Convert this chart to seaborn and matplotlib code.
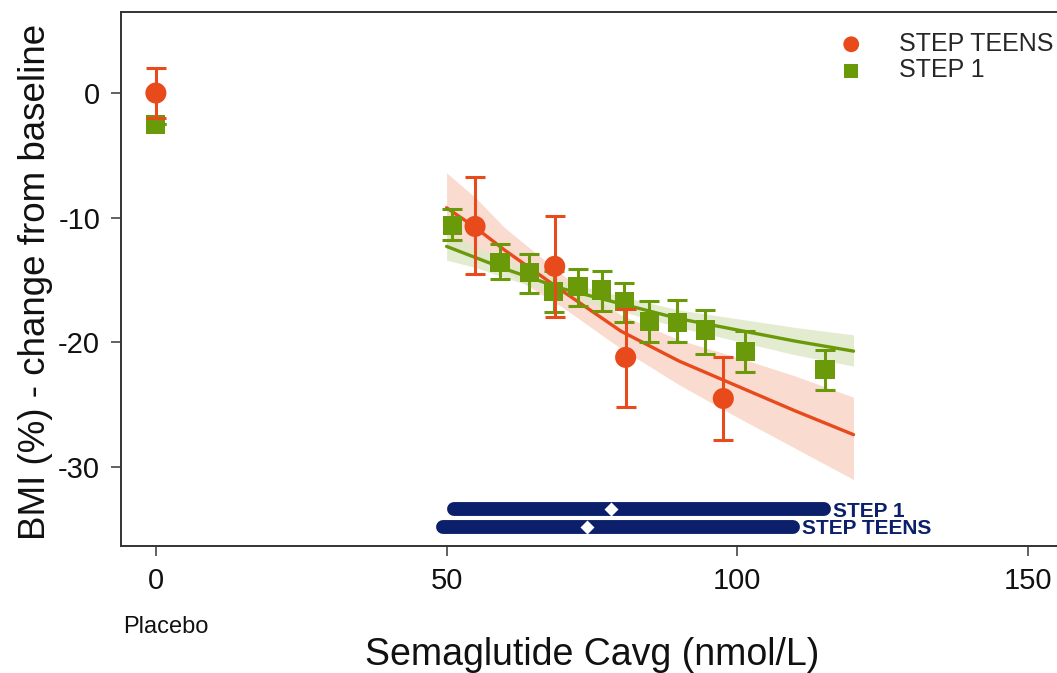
import numpy as np
import pandas as pd
import matplotlib
matplotlib.use("Agg")
import matplotlib.pyplot as plt
import matplotlib.transforms as mtransforms
import seaborn as sns

# ---- data ----
teens_x = [0, 54.9, 68.6, 80.8, 97.6]
teens_y = [0.0, -10.7, -13.9, -21.2, -24.5]
teens_lo = [-2.0, -14.5, -18.0, -25.2, -27.8]
teens_hi = [2.0, -6.7, -9.9, -17.3, -21.2]

step1_x = [0, 51.0, 59.2, 64.2, 68.4, 72.6, 76.7, 80.6, 84.9, 89.7, 94.5, 101.4, 115.1]
step1_y = [-2.5, -10.6, -13.6, -14.4, -15.9, -15.5, -15.8, -16.7, -18.3, -18.4, -19.0, -20.7, -22.2]
step1_lo = [-2.5, -11.8, -14.9, -16.0, -17.6, -17.1, -17.5, -18.4, -20.0, -20.0, -20.9, -22.4, -23.8]
step1_hi = [-2.5, -9.3, -12.1, -12.9, -14.3, -14.1, -14.3, -15.2, -16.7, -16.6, -17.4, -19.1, -20.6]

curve_x = [50, 55, 60, 70, 80, 90, 100, 110, 120]
teens_curve = [-9.2, -10.8, -12.6, -15.9, -19.1, -21.5, -23.5, -25.5, -27.4]
teens_band_lo = [-12.4, -13.0, -14.3, -17.2, -20.5, -23.4, -26.0, -28.5, -31.0]
teens_band_hi = [-6.4, -8.4, -10.8, -14.6, -17.8, -19.8, -21.2, -22.7, -24.4]
step1_curve = [-12.3, -13.2, -14.1, -15.7, -16.9, -18.1, -19.0, -19.9, -20.7]
step1_band_lo = [-13.4, -14.0, -14.8, -16.3, -17.5, -18.8, -19.9, -21.0, -21.9]
step1_band_hi = [-11.2, -12.3, -13.4, -15.1, -16.3, -17.4, -18.1, -18.8, -19.4]

exp_names = ["STEP 1", "STEP TEENS"]
exp_lo = [51.3, 49.4]
exp_hi = [114.9, 109.6]
exp_med = [78.2, 74.1]
exp_y = [-33.4, -34.8]

xticks = [0, 50, 100, 150]
yticks = [0, -10, -20, -30]

RED = "#E84A1B"
GREEN = "#6A9A0A"
NAVY = "#0B1F6B"

sns.set_style("white")
plt.rcParams["font.family"] = ["Liberation Sans", "DejaVu Sans"]
plt.rcParams["axes.unicode_minus"] = False

fig = plt.figure(figsize=(10.57, 6.73), dpi=100)
ax = fig.add_axes([121 / 1057, 1 - 546 / 673, 1 - 121 / 1057, (546 - 12) / 673])

# confidence bands
ax.fill_between(curve_x, teens_band_lo, teens_band_hi, color="#F9D5C8", alpha=0.85, lw=0, zorder=1)
ax.fill_between(curve_x, step1_band_lo, step1_band_hi, color="#DDE8C6", alpha=0.8, lw=0, zorder=1)

# fitted curves
cdf = pd.DataFrame({
    "x": curve_x * 2,
    "y": step1_curve + teens_curve,
    "study": ["STEP 1"] * len(curve_x) + ["STEP TEENS"] * len(curve_x),
})
sns.lineplot(data=cdf, x="x", y="y", hue="study", palette={"STEP 1": GREEN, "STEP TEENS": RED},
             lw=2.4, ax=ax, legend=False, zorder=3)

# error bars
s1_err = [np.array(step1_y) - np.array(step1_lo), np.array(step1_hi) - np.array(step1_y)]
t_err = [np.array(teens_y) - np.array(teens_lo), np.array(teens_hi) - np.array(teens_y)]
ax.errorbar(step1_x, step1_y, yerr=s1_err, fmt="none", ecolor=GREEN, elinewidth=2.2,
            capsize=7, capthick=2.2, zorder=4)
ax.errorbar(teens_x, teens_y, yerr=t_err, fmt="none", ecolor=RED, elinewidth=2.2,
            capsize=7, capthick=2.2, zorder=6)

# points
sns.scatterplot(x=step1_x, y=step1_y, marker="s", s=190, color=GREEN, edgecolor="none",
                ax=ax, zorder=5, label="STEP 1")
sns.scatterplot(x=teens_x, y=teens_y, marker="o", s=230, color=RED, edgecolor="none",
                ax=ax, zorder=7, label="STEP TEENS")

# exposure bars
for name, lo, hi, med, yy in zip(exp_names, exp_lo, exp_hi, exp_med, exp_y):
    ax.plot([lo, hi], [yy, yy], color=NAVY, lw=10, solid_capstyle="round", zorder=5)
    ax.plot([med], [yy], marker="D", color="white", ms=7, mec="none", zorder=6)
    ax.text(hi + 1.6, yy - 0.15, name, color=NAVY, fontsize=15, fontweight="bold",
            va="center", ha="left", zorder=6)

ax.set_xlim(-6.0, 155.0)
ax.set_ylim(-36.33, 6.5)
ax.set_xticks(xticks)
ax.set_yticks(yticks)
ax.tick_params(axis="both", labelsize=21, length=7, width=1.3, color="#555555",
               labelcolor="#111111", direction="out", bottom=True, left=True, pad=8)
for side in ["top", "bottom", "left"]:
    ax.spines[side].set_color("#333333")
    ax.spines[side].set_linewidth(1.4)
ax.spines["right"].set_visible(False)

ax.set_xlabel("Semaglutide Cavg (nmol/L)", fontsize=27, color="#111111", va="center")
ax.xaxis.set_label_coords((592 - 121) / 936, (546 - 655) / 534)
ax.set_ylabel("BMI (%) - change from baseline", fontsize=26.5, color="#111111", va="center")
ax.yaxis.set_label_coords((36 - 121) / 936, (546 - 282) / 534)

trans = mtransforms.blended_transform_factory(ax.transData, fig.transFigure)
ax.text(1.7, 1 - 627 / 673, "Placebo", transform=trans, fontsize=17, ha="center",
        va="center", color="#111111")

handles, labels = ax.get_legend_handles_labels()
order = [labels.index("STEP TEENS"), labels.index("STEP 1")]
ax.legend([handles[i] for i in order], [labels[i] for i in order], loc="upper right",
          bbox_to_anchor=(1.02, 1.005), frameon=False, fontsize=18, markerscale=0.75,
          handletextpad=0.9, labelspacing=0.1)

fig.savefig("out.png", dpi=100)
